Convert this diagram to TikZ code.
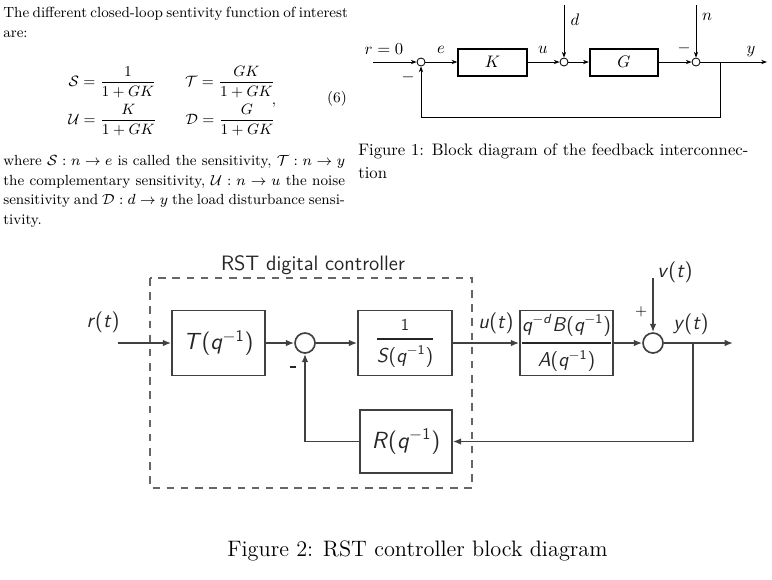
\RequirePackage{fix-cm}
\documentclass[tikz,border=0pt]{standalone}
\usepackage{amsmath}
\usetikzlibrary{arrows.meta}
\usetikzlibrary{calc}
\usetikzlibrary{positioning}

% q^{-1} in the sans font of the RST picture
\newcommand{\qinv}{(\textit{q}\textsuperscript{$-$1})}

\begin{document}
\begin{tikzpicture}[x=0.6pt, y=-0.6pt]

% Define styles
\tikzset{
    bodytext/.style={anchor=base west, inner sep=0pt, font=\fontsize{8.8}{11.7}\selectfont},
    eqtext/.style={anchor=base, inner sep=0pt, font=\fontsize{9}{11}\selectfont},
    captext/.style={anchor=base west, inner sep=0pt},
    smallsum/.style={draw, circle, minimum size=4.8pt, inner sep=0pt, line width=0.5pt},
    smallblock/.style={draw, line width=1.2pt, minimum width=41pt, minimum height=16.2pt, inner sep=0pt},
    smallsignal/.style={line width=0.5pt, -{Stealth[length=3.5pt, width=2.6pt]}},
    rstlabel/.style={inner sep=0pt, text=black!85, font=\sffamily\fontsize{12.5}{15}\selectfont},
    bigsum/.style={draw=black!75, circle, minimum size=12pt, inner sep=0pt, line width=1pt},
    bigblock/.style={draw=black!75, line width=1pt, minimum width=#1, minimum height=39pt, inner sep=0pt, text=black!85, font=\sffamily\fontsize{12}{14}\selectfont},
    bigsignal/.style={draw=black!75, line width=1pt, -{Latex[length=5pt, width=4pt]}},
    dashbox/.style={draw=black!60, line width=0.9pt, dash pattern=on 4.5pt off 4pt}
}

% whole page, in pixels of the screenshot
\useasboundingbox (0,0) rectangle (772,579);


% left column text
\node[bodytext] (intro) at (3,17) {\makebox[205pt][s]{The different closed-loop sentivity function of interest}};
\node[bodytext] (introb) at (3,37) {are:};

% sensitivity functions
\node[eqtext] (eqS) at (112.5,86) {$\mathcal{S}=\dfrac{1}{1+GK}$};
\node[eqtext] (eqT) at (230,86) {$\mathcal{T}=\dfrac{GK}{1+GK}$};
\node[eqtext] (eqU) at (112.5,124) {$\mathcal{U}=\dfrac{K}{1+GK}$};
\node[eqtext] (eqD) at (230.5,124) {$\mathcal{D}=\dfrac{G}{1+GK}$};
\node[eqtext] (eqcomma) at (274,104) {$,$};
\node[eqtext] (eqnum) at (337,102) {(6)};

\node[bodytext] (where) at (3,165) {\makebox[205pt][s]{where $\mathcal{S}:n\rightarrow e$ is called the sensitivity, $\mathcal{T}:n\rightarrow y$}};
\node[bodytext] (whereb) at (3,185) {\makebox[205pt][s]{the complementary sensitivity, $\mathcal{U}:n\rightarrow u$ the noise}};
\node[bodytext] (wherec) at (3,204) {\makebox[205pt][s]{sensitivity and $\mathcal{D}:d\rightarrow y$ the load disturbance sensi-}};
\node[bodytext] (whered) at (3,224) {tivity.};


% Figure 1: feedback interconnection
\coordinate (rzero) at (373,62);
\node[smallsum] (sumE) at (421,62) {};
\node[smallblock] (K) at (492.5,62) {$K$};
\node[smallsum] (sumU) at (564,62) {};
\node[smallblock] (G) at (624,62) {$G$};
\node[smallsum] (sumY) at (696,62) {};
\coordinate (dtop) at (564,5);
\coordinate (ntop) at (696,5);
\coordinate (ybranch) at (720,62);
\coordinate (yend) at (767,62);

\draw[smallsignal] (rzero) -- (sumE);
\draw[smallsignal] (sumE) -- (K);
\draw[smallsignal] (K) -- (sumU);
\draw[smallsignal] (dtop) -- (sumU);
\draw[smallsignal] (sumU) -- (G);
\draw[smallsignal] (G) -- (sumY);
\draw[smallsignal] (ntop) -- (sumY);
\draw[smallsignal] (sumY) -- (yend);
\draw[smallsignal] (ybranch) -- (720,117) -| (sumE);

\node (rlabel) at (384,49) {$r=0$};
\node (elabel) at (441,50) {$e$};
\node (ulabel) at (543,50) {$u$};
\node (dlabel) at (575,20) {$d$};
\node (nlabel) at (707,17) {$n$};
\node (ylabel) at (751,52) {$y$};
\node (minusE) at (408,77) {$-$};
\node (minusY) at (684,48) {$-$};

\node[captext] (fig1cap) at (358,155) {\makebox[234pt][s]{Figure 1: Block diagram of the feedback interconnec-}};
\node[captext] (fig1capb) at (358,178) {tion};


% Figure 2: RST controller
\node[rstlabel] (ctrltitle) at (313,265) {RST digital controller};
\draw[dashbox] (150,278) rectangle (472,488);

\coordinate (rstart) at (118,343);
\node[bigblock=55.8pt, font=\sffamily\fontsize{14}{17}\selectfont] (Tq) at (218.5,343) {\textit{T}\qinv};
\node[bigsum] (sumR) at (305,343) {};
\node[bigblock=56.4pt] (Sq) at (405,343) {$\genfrac{}{}{1.2pt}{0}{\text{\fontsize{10}{12}\selectfont 1}}{\text{\textit{S}\qinv}}$};
\node[bigblock=55.8pt] (plant) at (566.5,343) {$\genfrac{}{}{1.2pt}{0}{\text{\textit{q}\textsuperscript{$-$\textit{d}}\textit{B}\qinv}}{\text{\textit{A}\qinv}}$};
\node[bigsum] (sumV) at (653,343) {};
\node[bigblock=55.2pt, minimum height=38pt, font=\sffamily\fontsize{14}{17}\selectfont] (Rq) at (406,441.5) {\textit{R}\qinv};
\coordinate (vtop) at (653,278);
\coordinate (ybranch2) at (693,343);
\coordinate (yend2) at (733,343);

\draw[bigsignal] (rstart) -- (Tq);
\draw[bigsignal] (Tq) -- (sumR);
\draw[bigsignal] (sumR) -- (Sq);
\draw[bigsignal] (Sq) -- (plant);
\draw[bigsignal] (plant) -- (sumV);
\draw[bigsignal] (vtop) -- (sumV);
\draw[bigsignal] (sumV) -- (yend2);
\draw[bigsignal] (ybranch2) |- (Rq);
\draw[bigsignal] (Rq) -| (sumR);

\node[rstlabel] (rlab) at (103,322) {\textit{r}(\textit{t})};
\node[rstlabel] (ulab) at (496,323) {\textit{u}(\textit{t})};
\node[rstlabel] (vlab) at (675,272) {\textit{v}(\textit{t})};
\node[rstlabel] (ylab) at (691,324) {\textit{y}(\textit{t})};
\node[rstlabel, text=black, font=\sffamily\fontsize{9}{11}\selectfont] (plus) at (641,312) {+};
\node[rstlabel] (minus) at (293,367) {\rule{3.5pt}{1.4pt}};

\node[captext, font=\fontsize{13.4}{16}\selectfont] (fig2cap) at (227,556) {Figure 2: RST controller block diagram};

\end{tikzpicture}
\end{document}
